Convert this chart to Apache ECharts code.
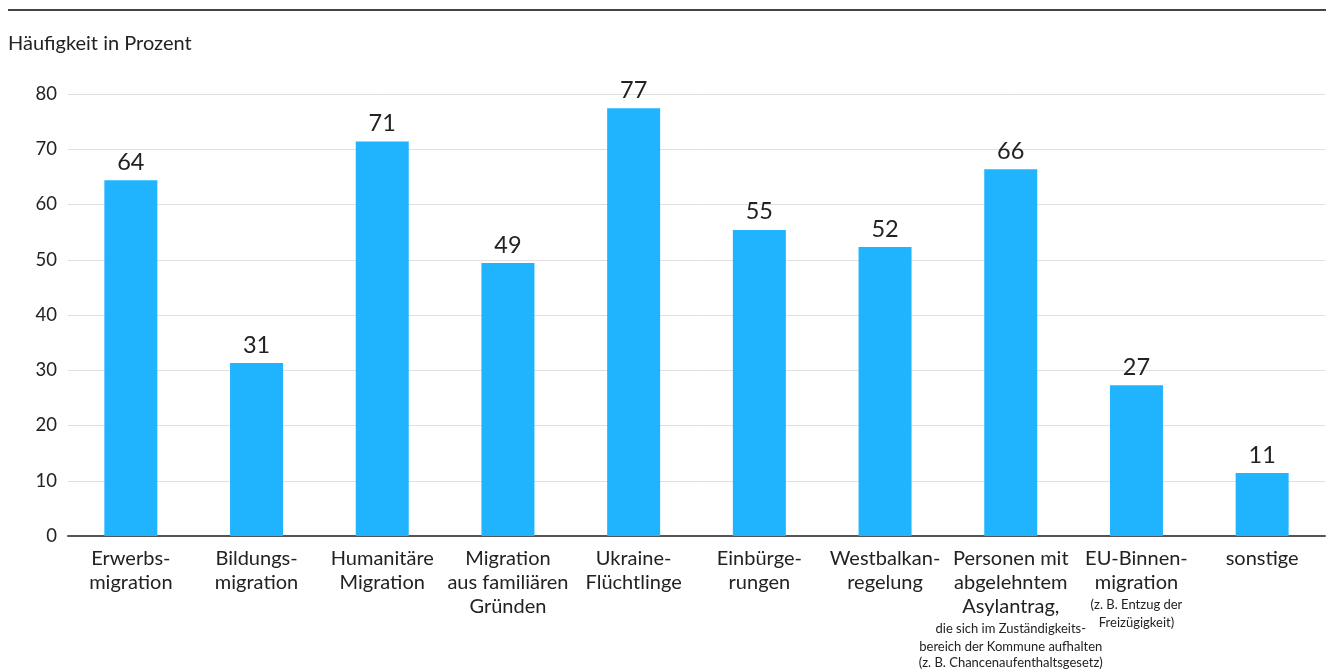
<!DOCTYPE html>
<html>
<head>
<meta charset="utf-8">
<script src="https://cdn.jsdelivr.net/npm/echarts@6/dist/echarts.min.js"></script>
<style>
html,body{margin:0;padding:0;background:#fff;}
#chart{width:1326px;height:670px;}
</style>
</head>
<body>
<div id="chart"></div>
<script>
const categories = [
  "Erwerbs-\nmigration",
  "Bildungs-\nmigration",
  "Humanitäre\nMigration",
  "Migration\naus familiären\nGründen",
  "Ukraine-\nFlüchtlinge",
  "Einbürge-\nrungen",
  "Westbalkan-\nregelung",
  "Personen mit\nabgelehntem\nAsylantrag,",
  "EU-Binnen-\nmigration",
  "sonstige"
];
const categoryNotes = [
  "", "", "", "", "", "", "",
  "die sich im Zuständigkeits-\nbereich der Kommune aufhalten\n(z. B. Chancenaufenthaltsgesetz)",
  "(z. B. Entzug der\nFreizügigkeit)",
  ""
];
const values = [64.4, 31.3, 71.4, 49.4, 77.4, 55.4, 52.3, 66.4, 27.3, 11.4];
const yTicks = { min: 0, max: 80, interval: 10 };
const yAxisTitle = "Häufigkeit in Prozent";

const FONT = "Lato, 'Noto Sans', sans-serif";
const chart = echarts.init(document.getElementById('chart'), null, { renderer: 'canvas' });

function catLabel(value, idx) {
  const main = value.split('\n').map(l => '{a|' + l + '}').join('\n');
  const note = categoryNotes[idx];
  if (!note) return main;
  return main + '\n' + note.split('\n').map((l, i) => '{' + (i === 0 ? 'c' : 'b') + '|' + l + '}').join('\n');
}

chart.setOption({
  animation: false,
  backgroundColor: '#ffffff',
  textStyle: { fontFamily: FONT },
  graphic: [
    { type: 'rect', left: 8, top: 9, shape: { width: 1318, height: 2 }, style: { fill: '#444444' } },
    { type: 'text', left: 8, top: 34, style: { text: yAxisTitle, font: '20px ' + FONT, fill: '#222222' } }
  ],
  grid: { left: 68, right: 1, top: 94, bottom: 134, containLabel: false },
  xAxis: {
    type: 'category',
    data: categories,
    axisTick: { show: false },
    axisLine: { lineStyle: { color: '#555555', width: 2 } },
    axisLabel: {
      interval: 0,
      margin: 11,
      color: '#222222',
      formatter: catLabel,
      rich: {
        a: { fontFamily: FONT, fontSize: 20, lineHeight: 24, color: '#222222', align: 'center' },
        b: { fontFamily: FONT, fontSize: 13, lineHeight: 16, color: '#222222', align: 'center' },
        c: { fontFamily: FONT, fontSize: 13, lineHeight: 20, color: '#222222', align: 'center' }
      }
    }
  },
  yAxis: {
    type: 'value',
    min: yTicks.min,
    max: yTicks.max,
    interval: yTicks.interval,
    axisLine: { show: false },
    axisTick: { show: false },
    axisLabel: { color: '#222222', fontSize: 18.5, fontFamily: FONT, margin: 11 },
    splitLine: { lineStyle: { color: '#e0e0e0', width: 1 } }
  },
  series: [{
    type: 'bar',
    data: values,
    barWidth: 53,
    itemStyle: { color: '#20b4ff' },
    label: {
      show: true,
      position: 'top',
      distance: 6,
      color: '#222222',
      fontSize: 23.5,
      fontFamily: FONT,
      formatter: p => Math.round(p.value)
    }
  }]
});
</script>
</body>
</html>
